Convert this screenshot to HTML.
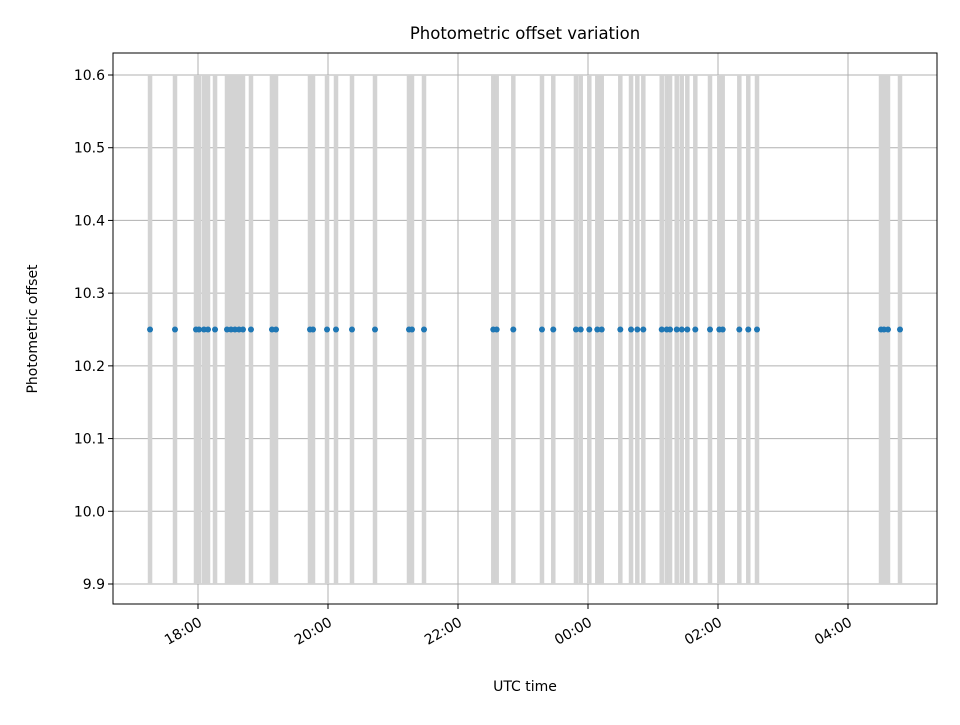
<!DOCTYPE html>
<html><head><meta charset="utf-8"><style>
body{margin:0;background:#fff;font-family:"Liberation Sans","DejaVu Sans",sans-serif}
svg text{font-family:"DejaVu Sans","Liberation Sans",sans-serif}
</style></head><body>
<svg id="c" width="960" height="720" xmlns="http://www.w3.org/2000/svg">
<rect width="960" height="720" fill="#fff"/>
<g id="grid"></g><g id="bars"></g><g id="pts"></g><g id="axes"></g>
<text x="525" y="39" text-anchor="middle" font-size="16.5">Photometric offset variation</text>
<text x="525" y="691" text-anchor="middle" font-size="14">UTC time</text>
<text transform="translate(37,329) rotate(-90)" text-anchor="middle" font-size="14">Photometric offset</text>
</svg>
<script>
// hours after 18:00 UTC
const times = [-0.738,-0.354,-0.031,0.015,0.092,0.154,0.262,0.446,0.508,0.569,0.631,0.692,0.815,1.138,1.2,1.723,1.769,1.985,2.123,2.369,2.723,3.246,3.292,3.477,
4.543,4.595,4.851,5.292,5.466,5.815,5.888,6.020,6.143,6.211,6.497,6.662,6.759,6.851,7.134,7.211,7.262,7.365,7.442,7.528,7.651,7.877,8.020,8.072,8.328,8.466,8.600,
10.508,10.554,10.615,10.8];
const offsets = times.map(()=>10.25);
const yTicks = [9.9,10.0,10.1,10.2,10.3,10.4,10.5,10.6];
const xTickHours = [0,2,4,6,8,10];
const xTickLabels = ["18:00","20:00","22:00","00:00","02:00","04:00"];
const errLow = 9.9, errHigh = 10.6;

const L=113,R=937,T=53,B=604;
const xs=h=>198+h*65;
const ys=v=>584-(v-9.9)*(509/0.7);
const NS="http://www.w3.org/2000/svg";
function mk(p,tag,a){const e=document.createElementNS(NS,tag);for(const k in a)e.setAttribute(k,a[k]);document.getElementById(p).appendChild(e);return e;}
yTicks.forEach(v=>{
 const l=mk('grid','line',{x1:L,x2:R,y1:ys(v),y2:ys(v),stroke:'#b0b0b0','stroke-width':1});
 
 
 mk('axes','line',{x1:L-5,x2:L,y1:ys(v),y2:ys(v),stroke:'#000'});
 const t=mk('axes','text',{x:L-8,y:ys(v)+5,'text-anchor':'end','font-size':14});
 t.textContent=v.toFixed(1);
 
 
});
xTickHours.forEach((h,i)=>{
 const l=mk('grid','line',{x1:xs(h),x2:xs(h),y1:T,y2:B,stroke:'#b0b0b0','stroke-width':1});
 
 
 mk('axes','line',{x1:xs(h),x2:xs(h),y1:B,y2:B+5,stroke:'#000'});
 const t=mk('axes','text',{transform:`translate(${xs(h)+5},${B+21}) rotate(-30)`,'text-anchor':'end','font-size':14});
 t.textContent=xTickLabels[i];
 
 
});
times.forEach((h,i)=>{
 const b=mk('bars','line',{x1:xs(h),x2:xs(h),y1:ys(errLow),y2:ys(errHigh),stroke:'#d3d3d3','stroke-width':4.5});
 
 
});
times.forEach((h,i)=>{
 const c=mk('pts','circle',{cx:xs(h),cy:ys(offsets[i]),r:3,fill:'#1f77b4'});
 
 
});
const f=mk('axes','rect',{x:L,y:T,width:R-L,height:B-T,fill:'none',stroke:'#000','stroke-width':1});


</script>
</body></html>
